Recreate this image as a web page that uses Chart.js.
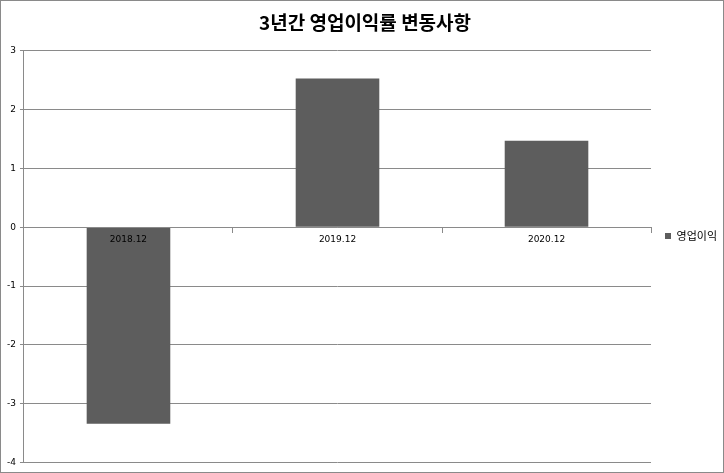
<!DOCTYPE html>
<html>
<head>
<meta charset="utf-8">
<script src="https://cdn.jsdelivr.net/npm/chart.js@4.4.1/dist/chart.umd.min.js"></script>
<style>
  html, body { margin: 0; padding: 0; background: #fff; }
  #wrap { position: relative; width: 722px; height: 471px; border: 1px solid #8a8a8a; }
  canvas { display: block; }
</style>
</head>
<body>
<div id="wrap"><canvas id="c" width="722" height="471"></canvas></div>
<script>
const chartTitle = "3년간 영업이익률 변동사항";
const categories = ["2018.12", "2019.12", "2020.12"];
const seriesName = "영업이익";
const seriesValues = [-3.34, 2.53, 1.47];
const yTicks = [3, 2, 1, 0, -1, -2, -3, -4];

const ctx = document.getElementById('c');
new Chart(ctx, {
  type: 'bar',
  data: {
    labels: categories,
    datasets: [{
      label: seriesName,
      data: seriesValues,
      backgroundColor: '#5d5d5d',
      borderWidth: 0,
      barPercentage: 0.4,
      categoryPercentage: 1.0
    }]
  },
  options: {
    responsive: false,
    animation: false,
    devicePixelRatio: 1,
    layout: { padding: { left: 2, right: -4, top: 8, bottom: 9 } },
    plugins: {
      title: {
        display: true,
        text: chartTitle,
        color: '#000',
        font: { family: "'Noto Sans CJK KR', sans-serif", size: 19, weight: 'bold' },
        padding: { top: 2, bottom: 17 }
      },
      legend: {
        position: 'right',
        labels: {
          color: '#000',
          boxWidth: 6,
          boxHeight: 6,
          padding: 14,
          font: { family: "'Noto Sans CJK KR', sans-serif", size: 11 }
        }
      },
      tooltip: { enabled: false }
    },
    scales: {
      x: {
        position: { y: 0 },
        offset: true,
        grid: {
          offset: true,
          drawOnChartArea: false,
          drawTicks: true,
          tickLength: 5,
          color: '#8a8a8a'
        },
        border: { display: true, color: '#8a8a8a', width: 1, z: 1 },
        ticks: {
          z: 1,
          color: '#000',
          padding: 2,
          font: { family: "'DejaVu Sans', sans-serif", size: 9 },
          maxRotation: 0
        }
      },
      y: {
        min: -4,
        max: 3,
        afterBuildTicks: (axis) => { axis.ticks = yTicks.map(v => ({ value: v })); },
        grid: {
          color: '#8a8a8a',
          tickLength: 4,
          lineWidth: 1
        },
        border: { display: true, color: '#8a8a8a', width: 1 },
        ticks: {
          color: '#000',
          padding: 4,
          font: { family: "'DejaVu Sans', sans-serif", size: 9 }
        }
      }
    }
  }
});
</script>
</body>
</html>
